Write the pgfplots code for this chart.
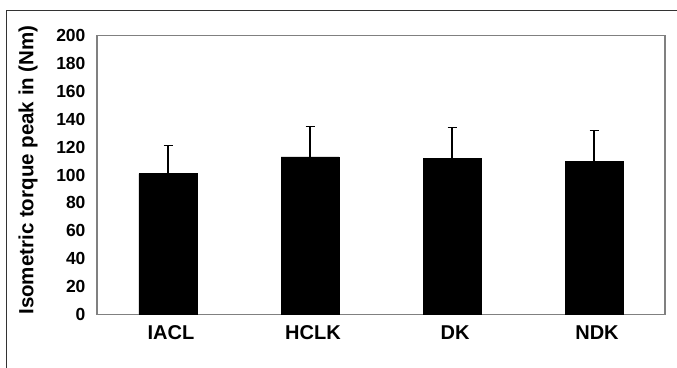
\documentclass[border=0pt]{standalone}
\usepackage{fontspec}
\setmainfont{Liberation Sans}
\usepackage{pgfplots}
\pgfplotsset{compat=1.18}
\begin{document}
\begin{tikzpicture}[x=1pt,y=1pt]
\useasboundingbox (0,0) rectangle (677,367);
\fill[white] (0,0) rectangle (677,367);
\draw[line width=1pt, color=black!80] (6,-2) -- (6,356) -- (679,356);
\begin{axis}[
  at={(97pt,52.7pt)}, anchor=south west,
  width=568pt, height=278.6pt, scale only axis,
  xmin=-0.5, xmax=3.5, ymin=0, ymax=200,
  ytick={0,20,...,200},
  xtick={0,1,2,3}, xticklabels={IACL,HCLK,DK,NDK},
  major tick length=0pt,
  axis line style={color=black!50, line width=1.2pt},
  ybar, bar width=58pt,
  /pgf/number format/assume math mode=true,
  yticklabel style={font=\fontsize{17.5}{17.5}\selectfont\bfseries, xshift=-8pt},
  xticklabel style={font=\fontsize{20}{20}\selectfont\bfseries, yshift=-8pt, xshift=3pt},
  ylabel={Isometric torque peak in (Nm)},
  every axis y label/.style={at={(axis description cs:-0.1215,0.518)}, rotate=90, anchor=center, font=\fontsize{20.5}{20.5}\selectfont\bfseries},
  clip=false,
]
\addplot[fill=black, draw=black,
  error bars/.cd, y dir=plus, y explicit,
  error bar style={line width=1.2pt, black},
  error mark options={rotate=90, mark size=4.5pt, line width=1.2pt, black}]
  coordinates {
  (0,101) +- (0,20)
  (1,113) +- (0,22)
  (2,112) +- (0,22)
  (3,110) +- (0,22)
  };
\end{axis}
\end{tikzpicture}
\end{document}
